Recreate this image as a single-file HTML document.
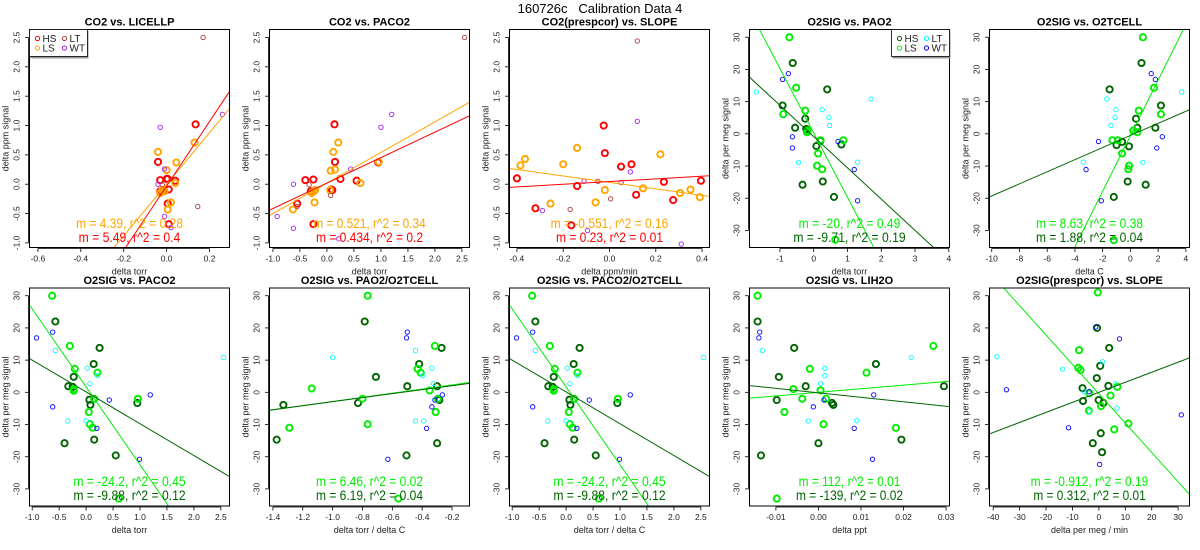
<!DOCTYPE html>
<html><head><meta charset="utf-8"><style>
html,body{margin:0;padding:0;background:#fff;width:1200px;height:550px;overflow:hidden;}
svg{display:block;font-family:"Liberation Sans",sans-serif;}
</style></head><body>
<svg id="fig" width="1200" height="550" viewBox="0 0 1200 550" xmlns="http://www.w3.org/2000/svg">
<rect width="1200" height="550" fill="#fff"/>
<text x="600" y="13" text-anchor="middle" font-size="13" style="white-space:pre">160726c   Calibration Data 4</text>
</svg>
<script>
// ---- data arrays ----
const p1HS=[[-0.04,0.38],[-0.03,0.07],[0.0,0.09],[0.005,0.09],[0.04,0.06],[0.135,1.02],[-0.03,-0.12],[0.005,-0.33],[0.01,-0.09],[0.01,-0.68],[-0.02,-0.12]];
const p1LS=[[-0.04,0.55],[0.0,0.24],[0.045,0.37],[0.04,0.02],[0.13,0.71],[-0.03,-0.15],[-0.01,-0.12],[0.02,-0.31],[0.005,-0.43],[-0.02,-0.10]];
const p1LT=[[0.17,2.5],[0.145,-0.38],[-0.02,-0.01]];
const p1WT=[[-0.03,0.97],[0.26,1.19],[-0.04,0.0],[-0.01,0.26],[-0.01,-0.55],[0.02,-0.74]];
const p2HS=[[-0.4,0.07],[-0.25,0.08],[0.14,1.02],[0.15,0.38],[0.25,0.09],[0.55,0.06],[0.95,0.37],[-0.55,-0.33],[-0.3,-0.12],[0.08,-0.09],[-0.25,-0.68],[0.1,-0.1]];
const p2LS=[[0.12,0.55],[0.15,0.25],[0.07,0.23],[0.21,0.71],[0.62,0.02],[0.96,0.38],[-0.63,-0.43],[-0.23,-0.31],[-0.25,-0.13],[-0.22,-0.10],[0.06,-0.10],[-0.28,-0.15]];
const p2LT=[[2.55,2.5],[-0.55,-0.38],[-0.33,-0.01],[0.07,-0.19]];
const p2WT=[[1.2,1.19],[1.0,0.97],[0.44,0.26],[-0.62,0.0],[-0.92,-0.55],[-0.62,-0.75],[0.22,-0.93]];
const p3HS=[[-0.4,0.1],[-0.32,-0.41],[-0.14,-0.03],[-0.165,-0.7],[-0.025,1.0],[-0.02,0.53],[0.05,0.3],[0.095,0.34],[0.115,-0.18],[0.235,0.04],[0.275,-0.27],[0.395,0.06]];
const p3LS=[[-0.385,0.32],[-0.365,0.43],[-0.2,0.34],[-0.14,0.62],[-0.255,-0.33],[-0.06,-0.31],[-0.02,-0.1],[0.145,-0.07],[0.22,0.51],[0.305,-0.15],[0.35,-0.09],[0.39,-0.22]];
const p3LT=[[0.12,2.44],[-0.17,-0.43],[-0.05,0.05],[0.05,0.03],[0.005,-0.25]];
const p3WT=[[0.12,1.07],[0.09,0.21],[-0.11,0.05],[-0.29,-0.45],[-0.095,-0.79],[0.31,-1.02]];
const p4HS=[[-0.62,22],[-0.92,8.8],[-0.25,4.7],[-0.55,1.9],[-0.22,1.5],[0.08,-3.8],[0.2,-2.2],[0.4,13.8],[0.82,-3.3],[-0.33,-15.8],[0.27,-14.8],[0.6,-19.6],[-0.2,1.2]];
const p4LS=[[-0.72,30],[-0.52,14.3],[-0.25,7.2],[-0.9,6.1],[-0.2,0.5],[-0.18,1.0],[0.2,-2.0],[0.13,-6.1],[0.1,-9.9],[0.25,-11],[0.88,-2.0],[0.64,-32.9]];
const p4LT=[[-1.7,13],[0.25,7.5],[0.45,5.1],[0.47,2.6],[-0.45,-8.9],[1.3,-8.8],[1.7,10.8]];
const p4WT=[[-0.75,18.7],[-0.92,16.9],[-0.63,-0.9],[-0.63,-4.4],[0.72,-2.4],[1.2,-11.1],[1.3,-20.8]];
const p5HS=[[0.8,22],[-1.5,13.8],[2.2,8.8],[0.4,4.7],[1.8,1.9],[0.5,1.9],[-1.0,-3.5],[-0.6,-2.5],[-0.1,-3.9],[-0.2,-14.8],[1.1,-15.8],[-1.2,-19.6]];
const p5LS=[[0.9,30],[1.7,14.3],[0.6,7.2],[2.2,6.1],[0.2,1.0],[0.5,0.5],[-1.3,-2.0],[-0.9,-2.0],[-0.6,-6.1],[-0.1,-9.9],[-0.15,-11],[-1.2,-33]];
const p5LT=[[-1.7,10.8],[-1.05,7.5],[-1.1,5.1],[-1.4,2.6],[-3.4,-8.8],[0.9,-8.9],[3.7,13]];
const p5WT=[[1.5,18.7],[1.8,16.9],[-2.3,-2.4],[-3.2,-11.1],[1.9,-4.4],[2.3,-0.9],[-2.1,-20.8]];
const p6HS=[[-0.57,22],[0.25,13.8],[0.14,8.8],[-0.23,4.8],[-0.33,1.9],[-0.25,1.7],[0.06,-2.3],[0.08,-3.9],[0.95,-3.3],[-0.4,-15.8],[0.15,-14.7],[0.55,-19.6]];
const p6LS=[[-0.63,30],[-0.3,14.4],[-0.21,7.3],[0.21,6.1],[-0.23,1.0],[-0.23,0.5],[0.15,-2.0],[0.05,-6.1],[0.07,-9.9],[0.12,-11],[0.96,-2.0],[0.61,-33]];
const p6LT=[[-0.57,13],[0.02,7.5],[0.21,5.2],[0.07,2.7],[-0.34,-8.9],[0.0,-8.8],[2.55,10.8]];
const p6WT=[[-0.62,18.7],[-0.92,16.9],[-0.62,-4.5],[0.43,-2.4],[1.19,-0.8],[0.2,-11.2],[0.99,-20.8]];
const p7HS=[[-0.785,22],[-0.27,13.8],[-0.42,8.8],[-0.71,4.8],[-0.5,1.9],[-0.3,1.9],[-0.83,-3.3],[-1.33,-3.9],[-0.285,-2.4],[-0.3,-15.8],[-1.375,-14.7],[-0.505,-19.6]];
const p7LS=[[-0.765,30],[-0.315,14.4],[-0.43,7.3],[-0.41,6.1],[-1.14,1.2],[-0.35,0.6],[-0.8,-2.0],[-0.31,-6.1],[-0.765,-9.9],[-1.29,-11],[-0.295,-2.0],[-0.56,-33]];
const p7LT=[[-1.0,10.8],[-0.445,13],[-0.335,7.5],[-0.395,5.2],[-0.325,2.7],[-0.445,-8.9],[-0.39,-8.9]];
const p7WT=[[-0.5,18.7],[-0.505,16.9],[-0.335,-4.5],[-0.315,-2.4],[-0.265,-0.8],[-0.37,-11.2],[-0.63,-20.8]];
const p9HS=[[-0.0143,22],[-0.0057,13.8],[0.0135,8.8],[-0.0093,4.8],[-0.003,1.9],[0.0295,1.9],[-0.0098,-2.4],[0.0032,-3.3],[0.0035,-3.9],[0.0,-15.8],[0.0195,-14.7],[-0.0135,-19.6]];
const p9LS=[[-0.0143,30],[0.027,14.4],[-0.002,7.3],[0.0113,6.1],[-0.0059,1.0],[0.0005,0.6],[0.0018,-2.0],[-0.0038,-2.0],[-0.008,-6.1],[0.0012,-9.9],[0.0182,-11],[-0.0098,-33]];
const p9LT=[[-0.0132,13],[0.0015,7.5],[0.0015,5.2],[0.0005,2.7],[-0.0024,-8.9],[0.009,-8.8],[0.0218,10.8]];
const p9WT=[[-0.0138,18.7],[-0.014,16.9],[-0.0012,-4.5],[0.0013,-2.4],[0.013,-0.8],[0.0084,-11.2],[0.0127,-20.8]];
const p10HS=[[-0.7,20],[3.9,13.8],[0.5,8.2],[-0.8,4.4],[-6.2,1.3],[3.6,2.0],[-6.0,-2.7],[-0.1,-2.4],[0.7,-12.7],[-2.3,-15.8],[1.2,-18.6],[1.7,-3.3]];
const p10LS=[[-0.4,31],[-7.5,13.1],[-7.8,7.6],[-6.9,6.9],[7.0,1.7],[4.4,-1.0],[-3.6,-0.3],[-3.8,-5.7],[0.8,-4.3],[5.8,-11.5],[11.2,-9.7]];
const p10LT=[[-38.6,11.1],[-13.7,7.2],[1.4,9.5],[6.3,2.6],[6.9,-4.9],[-3.5,-6.0],[-5.6,0.2]];
const p10WT=[[-35,0.8],[-11.5,-11.0],[7.8,16.6],[-1.2,20.3],[0.3,-22.4],[-3.7,0.2],[31.2,-7]];
// fits: [slope, intercept] for LS (upper text) and HS (lower text)
const fitsLS=[[4.39,0.0],[0.521,0.02],[-0.551,0.03],[-20,0.3],[8.63,-0.56],[-24.2,1.7],[6.46,3.6],[-24.2,1.7],[112,0.0],[-0.912,-0.44]];
const fitsHS=[[5.49,-0.03],[0.434,0.02],[0.23,0.045],[-9.71,-0.85],[1.88,-0.5],[-9.88,0.13],[6.19,3.3],[-9.88,0.13],[-139,-0.15],[0.312,0.0]];
const labelsLS=["m = 4.39, r^2 = 0.28","m = 0.521, r^2 = 0.34","m = -0.551, r^2 = 0.16","m = -20, r^2 = 0.49","m = 8.63, r^2 = 0.38","m = -24.2, r^2 = 0.45","m = 6.46, r^2 = 0.02","m = -24.2, r^2 = 0.45","m = 112, r^2 = 0.01","m = -0.912, r^2 = 0.19"];
const labelsHS=["m = 5.49, r^2 = 0.4","m = 0.434, r^2 = 0.2","m = 0.23, r^2 = 0.01","m = -9.71, r^2 = 0.19","m = 1.88, r^2 = 0.04","m = -9.88, r^2 = 0.12","m = 6.19, r^2 = 0.04","m = -9.88, r^2 = 0.12","m = -139, r^2 = 0.02","m = 0.312, r^2 = 0.01"];
const titles=["CO2 vs. LICELLP","CO2 vs. PACO2","CO2(prespcor) vs. SLOPE","O2SIG vs. PAO2","O2SIG vs. O2TCELL","O2SIG vs. PACO2","O2SIG vs. PAO2/O2TCELL","O2SIG vs. PACO2/O2TCELL","O2SIG vs. LIH2O","O2SIG(prespcor) vs. SLOPE"];
const xLabels=["delta torr","delta torr","delta ppm/min","delta torr","delta C","delta torr","delta torr / delta C","delta torr / delta C","delta ppt","delta per meg / min"];
const xTicks=[[-0.6,-0.4,-0.2,0.0,0.2],[-1.0,-0.5,0.0,0.5,1.0,1.5,2.0,2.5],[-0.4,-0.2,0.0,0.2,0.4],[-1,0,1,2,3,4],[-10,-8,-6,-4,-2,0,2,4],[-1.0,-0.5,0.0,0.5,1.0,1.5,2.0,2.5],[-1.4,-1.2,-1.0,-0.8,-0.6,-0.4,-0.2],[-1.0,-0.5,0.0,0.5,1.0,1.5,2.0,2.5],[-0.01,0.00,0.01,0.02,0.03],[-40,-30,-20,-10,0,10,20,30]];
const xTickDigits=[1,1,1,0,0,1,1,1,2,0];
const xLims=[[-0.639,0.293],[-1.063,2.64],[-0.432,0.432],[-1.9,4.02],[-10.16,4.26],[-1.05,2.66],[-1.423,-0.083],[-1.05,2.66],[-0.0162,0.0308],[-41.4,34.3]];
const co2Ticks=[-1.0,-0.5,0.0,0.5,1.0,1.5,2.0,2.5];
const o2Ticks=[-30,-20,-10,0,10,20,30];
const co2Lim=[-1.078,2.636], o2Lim=[-35.3,32.4];

const panelData=[[p1HS,p1LS,p1LT,p1WT],[p2HS,p2LS,p2LT,p2WT],[p3HS,p3LS,p3LT,p3WT],[p4HS,p4LS,p4LT,p4WT],[p5HS,p5LS,p5LT,p5WT],[p6HS,p6LS,p6LT,p6WT],[p7HS,p7LS,p7LT,p7WT],[p6HS,p6LS,p6LT,p6WT],[p9HS,p9LS,p9LT,p9WT],[p10HS,p10LS,p10LT,p10WT]];
const co2Col={HS:"#ff0000",LS:"#ffa500",LT:"#b03a3a",WT:"#a020f0"};
const o2Col={HS:"#006400",LS:"#00ee00",LT:"#00ffff",WT:"#0000ff"};

const NS="http://www.w3.org/2000/svg";
const svg=document.getElementById('fig');
function mk(tag,attrs,parent){const e=document.createElementNS(NS,tag);for(const k in attrs)e.setAttribute(k,attrs[k]);(parent||svg).appendChild(e);return e;}

for(let i=0;i<10;i++){
  const col=i%5,row=Math.floor(i/5);
  const L=29.5+240*col, R=L+200, T=row?288:29.5, B=row?506:247.5;
  const isCO2=i<3;
  const yl=isCO2?co2Lim:o2Lim, xl=xLims[i];
  const sx=v=>L+(v-xl[0])/(xl[1]-xl[0])*(R-L);
  const sy=v=>B-(v-yl[0])/(yl[1]-yl[0])*(B-T);
  const cols=isCO2?co2Col:o2Col;
  const g=mk('g',{});
  
  
  const clipId='clip'+i;
  const cp=mk('clipPath',{id:clipId},g); mk('rect',{x:L,y:T,width:R-L,height:B-T},cp);
  const tt=mk('text',{x:(L+R)/2,y:T-4,'text-anchor':'middle','font-size':'11','font-weight':'bold'},g);
  tt.textContent=titles[i];
  
  
  const xt=xTicks[i];
  const xa=mk('g',{},g);
  
  
  mk('line',{x1:sx(xt[0]),x2:sx(xt[xt.length-1]),y1:B+1,y2:B+1,stroke:'#000','stroke-width':0.8},xa);
  xt.forEach(v=>{
    mk('line',{x1:sx(v),x2:sx(v),y1:B+1,y2:B+4.5,stroke:'#000','stroke-width':0.8},xa);
    const t=mk('text',{x:sx(v),y:B+14,'text-anchor':'middle','font-size':'8.5',fill:'#222'},xa);
    t.textContent=v.toFixed(xTickDigits[i]);
    
    
  });
  const xlab=mk('text',{x:(L+R)/2,y:B+27,'text-anchor':'middle','font-size':'9',fill:'#222'},g);
  xlab.textContent=xLabels[i];
  
  
  const yt=isCO2?co2Ticks:o2Ticks;
  const ya=mk('g',{},g);
  
  
  mk('line',{x1:L-1,x2:L-1,y1:sy(yt[0]),y2:sy(yt[yt.length-1]),stroke:'#000','stroke-width':0.8},ya);
  yt.forEach(v=>{
    mk('line',{x1:L-1,x2:L-4.5,y1:sy(v),y2:sy(v),stroke:'#000','stroke-width':0.8},ya);
    const tx=L-10, ty=sy(v);
    const t=mk('text',{x:tx,y:ty,'text-anchor':'middle','font-size':'8.5',fill:'#222',transform:`rotate(-90 ${tx} ${ty})`},ya);
    t.textContent=isCO2?v.toFixed(1):String(v);
    
    
  });
  const ylx=L-21, yly=(T+B)/2;
  const ylab=mk('text',{x:ylx,y:yly,'text-anchor':'middle','font-size':'9',fill:'#222',transform:`rotate(-90 ${ylx} ${yly})`},g);
  ylab.textContent=isCO2?'delta ppm signal':'delta per meg signal';
  
  
  const groups=['HS','LS','LT','WT'];
  const pg=mk('g',{'clip-path':`url(#${clipId})`},g);
  panelData[i].forEach((pts,k)=>{
    const name=groups[k], thick=k<2;
    pts.forEach(p=>{
      const c=mk('circle',{cx:sx(p[0]),cy:sy(p[1]),r:thick?3.1:2.2,fill:'none',stroke:cols[name],'stroke-width':thick?1.9:0.9},pg);
      
      
    });
  });
  [[fitsLS[i],cols.LS,'fit-line-ls'],[fitsHS[i],cols.HS,'fit-line-hs']].forEach(([f,c,n])=>{
    const ln=mk('line',{x1:sx(xl[0]),y1:sy(f[0]*xl[0]+f[1]),x2:sx(xl[1]),y2:sy(f[0]*xl[1]+f[1]),stroke:c,'stroke-width':1},pg);
    
    
  });
  const ay=row?486:228;
  [[labelsLS[i],cols.LS,ay,'fit-label-ls'],[labelsHS[i],cols.HS,ay+14,'fit-label-hs']].forEach(([s,c,y,n])=>{
    const t=mk('text',{x:(L+R)/2,y:y,'text-anchor':'middle','font-size':'14',fill:c,textLength:s.length*5.35,lengthAdjust:'spacingAndGlyphs'},g);
    t.textContent=s;
    
    
  });
  const bx=mk('rect',{x:L,y:T,width:R-L,height:B-T,fill:'none',stroke:'#000','stroke-width':1},g);
  
  
  if(i===0||i===3){
    const lg=mk('g',{},g);
    
    
    const lx=i===0?L:R-58;
    mk('rect',{x:lx+1,y:T+1,width:58,height:28,fill:'#999'},lg);
    mk('rect',{x:lx,y:T,width:58,height:27,fill:'#fff',stroke:'#000','stroke-width':0.8},lg);
    [['HS',0,0],['LT',1,0],['LS',0,1],['WT',1,1]].forEach(([n,cx,cy])=>{
      const e=mk('g',{},lg);
      
      
      const px=lx+8+cx*27, py=T+9+cy*9.5;
      mk('circle',{cx:px,cy:py,r:2.1,fill:'none',stroke:cols[n],'stroke-width':1},e);
      const t=mk('text',{x:px+5,y:py+3.5,'font-size':'10',fill:'#222'},e);
      t.textContent=n;
    });
  }
}
</script>
</body></html>
